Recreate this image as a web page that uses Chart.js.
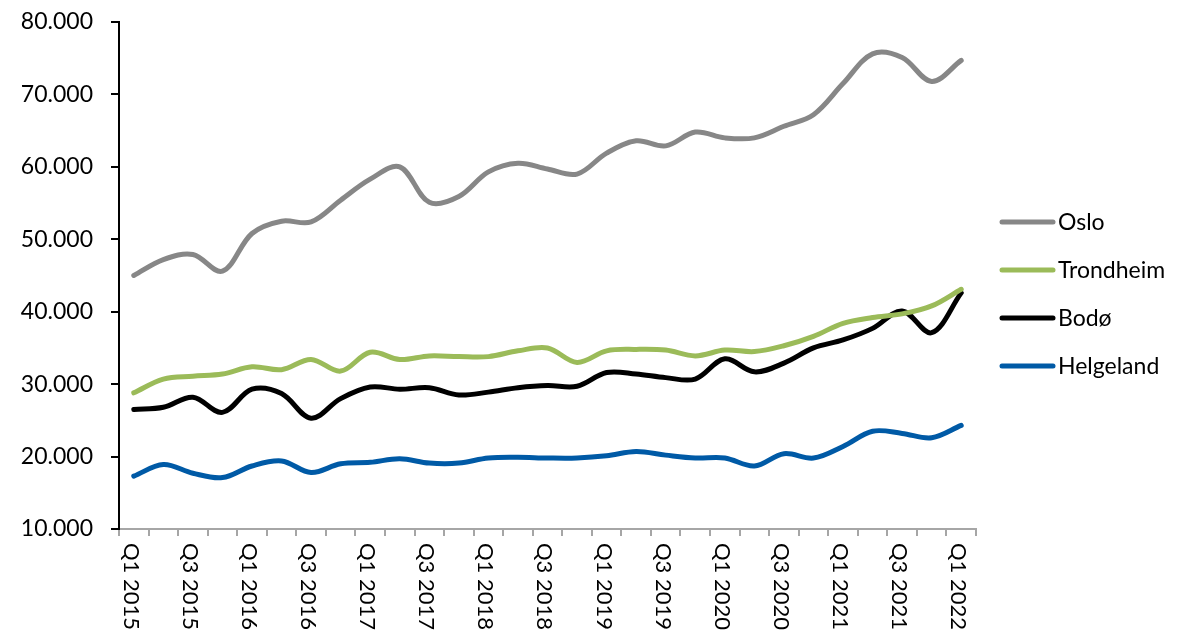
<!DOCTYPE html>
<html>
<head>
<meta charset="utf-8">
<script src="https://cdn.jsdelivr.net/npm/chart.js@4.4.0/dist/chart.umd.min.js"></script>
<style>
html,body{margin:0;padding:0;background:#fff;}
#wrap{width:1178px;height:638px;position:relative;overflow:hidden;}
</style>
</head>
<body>
<div id="wrap"><canvas id="c" width="1178" height="638"></canvas></div>
<script>
const categories = [
  "Q1 2015","Q2 2015","Q3 2015","Q4 2015",
  "Q1 2016","Q2 2016","Q3 2016","Q4 2016",
  "Q1 2017","Q2 2017","Q3 2017","Q4 2017",
  "Q1 2018","Q2 2018","Q3 2018","Q4 2018",
  "Q1 2019","Q2 2019","Q3 2019","Q4 2019",
  "Q1 2020","Q2 2020","Q3 2020","Q4 2020",
  "Q1 2021","Q2 2021","Q3 2021","Q4 2021",
  "Q1 2022"
];
const xTickLabels = categories.filter((c, i) => i % 2 === 0);
const yTicks = [10000, 20000, 30000, 40000, 50000, 60000, 70000, 80000];

const oslo = [45000, 47200, 47900, 45600, 50800, 52500, 52400, 55400, 58300, 60000, 55100, 55900, 59300, 60500, 59700, 59000, 61900, 63600, 62900, 64800, 64000, 64000, 65600, 67200, 71500, 75600, 75100, 71800, 74700];
const trondheim = [28800, 30700, 31100, 31400, 32400, 32000, 33400, 31800, 34400, 33400, 33900, 33800, 33800, 34600, 35000, 33000, 34600, 34800, 34700, 33900, 34700, 34500, 35300, 36600, 38400, 39200, 39700, 40800, 43100];
const bodo = [26500, 26800, 28200, 26100, 29300, 28700, 25300, 28000, 29600, 29300, 29500, 28500, 28900, 29500, 29800, 29700, 31600, 31400, 30900, 30700, 33500, 31700, 32900, 35000, 36100, 37700, 40100, 37100, 42600];
const helgeland = [17300, 18900, 17700, 17100, 18700, 19400, 17800, 19000, 19200, 19700, 19100, 19100, 19800, 19900, 19800, 19800, 20100, 20700, 20200, 19800, 19800, 18700, 20400, 19800, 21400, 23500, 23200, 22600, 24300];

const seriesNames = ["Oslo", "Trondheim", "Bodø", "Helgeland"];
const seriesColors = ["#878787", "#9BBB59", "#000000", "#005AA6"];
const seriesData = [oslo, trondheim, bodo, helgeland];

const FONT = 'Lato, "Open Sans", sans-serif';
const fmt = v => String(v).replace(/\B(?=(\d{3})+(?!\d))/g, '.');

const customPlugin = {
  id: 'custom',
  afterDraw(chart) {
    const ctx = chart.ctx;
    const xs = chart.scales.x;
    ctx.save();
    // rotated x labels (clockwise)
    ctx.font = '22px ' + FONT;
    ctx.fillStyle = '#000';
    ctx.textAlign = 'left';
    ctx.textBaseline = 'middle';
    categories.forEach((c, i) => {
      if (!xTickLabels.includes(c)) return;
      const px = xs.getPixelForValue(i);
      ctx.save();
      ctx.translate(px - 3, xs.top + 14);
      ctx.rotate(Math.PI / 2);
      ctx.fillText(c, 0, 0);
      ctx.restore();
    });
    // legend
    ctx.font = '23px ' + FONT;
    chart.data.datasets.forEach((ds, i) => {
      const y = 222 + 48 * i;
      ctx.beginPath();
      ctx.strokeStyle = ds.borderColor;
      ctx.lineWidth = 5;
      ctx.lineCap = 'round';
      ctx.moveTo(1002, y);
      ctx.lineTo(1053, y);
      ctx.stroke();
      ctx.fillStyle = '#000';
      ctx.textAlign = 'left';
      ctx.textBaseline = 'middle';
      ctx.fillText(ds.label, 1058, y + 1);
    });
    ctx.restore();
  }
};

new Chart(document.getElementById('c'), {
  type: 'line',
  data: {
    labels: categories,
    datasets: seriesNames.map((n, i) => ({
      label: n,
      data: seriesData[i],
      borderColor: seriesColors[i],
      backgroundColor: seriesColors[i],
      borderWidth: 5,
      borderCapStyle: 'round',
      borderJoinStyle: 'round',
      pointRadius: 0,
      pointHoverRadius: 0,
      tension: 0.35,
      fill: false
    }))
  },
  options: {
    responsive: false,
    animation: false,
    devicePixelRatio: 1,
    layout: { padding: { top: 22, right: 202, bottom: 0, left: 0 } },
    plugins: {
      legend: { display: false },
      title: { display: false },
      tooltip: { enabled: false }
    },
    scales: {
      x: {
        type: 'category',
        offset: true,
        afterFit(s) { s.height = 109; },
        ticks: { display: false, autoSkip: false },
        grid: { offset: true, drawOnChartArea: false, drawTicks: true, tickLength: 7, color: '#A6A6A6', lineWidth: 2 },
        border: { display: true, color: '#A6A6A6', width: 2 }
      },
      y: {
        min: 10000,
        max: 80000,
        afterFit(s) { s.width = 119; s.paddingTop = 0; s.paddingBottom = 0; },
        afterBuildTicks(s) { s.ticks = yTicks.map(v => ({ value: v })); },
        ticks: {
          font: { family: FONT, size: 23 },
          color: '#000',
          padding: 18,
          callback: v => fmt(v)
        },
        grid: { drawOnChartArea: false, drawTicks: true, tickLength: 8, color: '#000', lineWidth: 2 },
        border: { display: true, color: '#000', width: 2 }
      }
    }
  },
  plugins: [customPlugin]
});
</script>
</body>
</html>
